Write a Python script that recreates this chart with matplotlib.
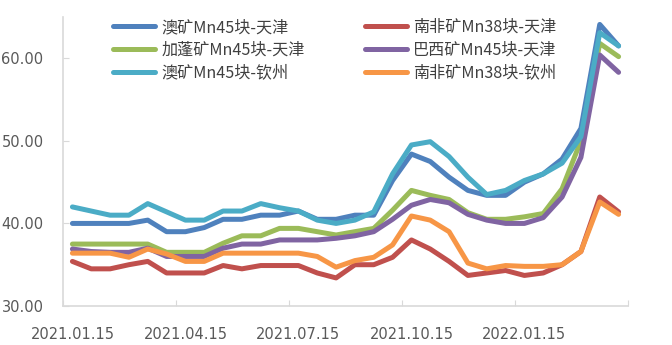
import matplotlib
matplotlib.use("Agg")
import matplotlib.pyplot as plt

dates = ["2021.01.15", "2021.01.31", "2021.02.15", "2021.02.28", "2021.03.15", "2021.03.31",
         "2021.04.15", "2021.04.30", "2021.05.15", "2021.05.31", "2021.06.15", "2021.06.30",
         "2021.07.15", "2021.07.31", "2021.08.15", "2021.08.31", "2021.09.15", "2021.09.30",
         "2021.10.15", "2021.10.31", "2021.11.15", "2021.11.30", "2021.12.15", "2021.12.31",
         "2022.01.15", "2022.01.31", "2022.02.15", "2022.02.28", "2022.03.15", "2022.03.31"]

aus_tj = [40.0, 40.0, 40.0, 40.0, 40.4, 39.0, 39.0, 39.5, 40.5, 40.5, 41.0, 41.0, 41.5, 40.5, 40.5,
          41.0, 41.0, 45.2, 48.4, 47.5, 45.6, 44.0, 43.4, 43.4, 45.0, 46.0, 47.8, 51.5, 64.1, 61.5]
sa_tj = [35.4, 34.5, 34.5, 35.0, 35.4, 34.0, 34.0, 34.0, 34.9, 34.5, 34.9, 34.9, 34.9, 34.0, 33.4,
         35.0, 35.0, 35.9, 38.0, 36.9, 35.4, 33.7, 34.0, 34.3, 33.7, 34.0, 35.0, 36.6, 43.2, 41.4]
gab_tj = [37.5, 37.5, 37.5, 37.5, 37.5, 36.5, 36.5, 36.5, 37.6, 38.5, 38.5, 39.4, 39.4, 39.0, 38.6,
          39.0, 39.4, 41.6, 44.0, 43.4, 42.9, 41.3, 40.5, 40.5, 40.8, 41.2, 44.2, 50.0, 61.8, 60.2]
bra_tj = [36.9, 36.6, 36.5, 36.5, 37.0, 36.0, 36.0, 36.0, 37.0, 37.5, 37.5, 38.0, 38.0, 38.0, 38.2,
          38.5, 39.0, 40.5, 42.2, 42.9, 42.5, 41.1, 40.4, 40.0, 40.0, 40.7, 43.2, 48.0, 60.4, 58.3]
aus_qz = [42.0, 41.5, 41.0, 41.0, 42.4, 41.4, 40.4, 40.4, 41.5, 41.5, 42.4, 41.9, 41.5, 40.4, 40.0,
          40.4, 41.4, 46.0, 49.5, 49.9, 48.1, 45.6, 43.5, 44.0, 45.2, 46.0, 47.3, 50.5, 63.1, 61.5]
sa_qz = [36.4, 36.4, 36.4, 35.9, 36.9, 36.3, 35.4, 35.4, 36.4, 36.4, 36.4, 36.4, 36.4, 36.0, 34.7,
         35.5, 35.9, 37.4, 40.9, 40.4, 39.0, 35.2, 34.5, 34.9, 34.8, 34.8, 35.0, 36.6, 42.6, 41.1]

series_names = ["澳矿Mn45块-天津", "南非矿Mn38块-天津", "加蓬矿Mn45块-天津",
                "巴西矿Mn45块-天津", "澳矿Mn45块-钦州", "南非矿Mn38块-钦州"]
series_values = [aus_tj, sa_tj, gab_tj, bra_tj, aus_qz, sa_qz]
colors = ["#4F81BD", "#C0504D", "#9BBB59", "#8064A2", "#4BACC6", "#F79646"]

y_ticks = [30, 40, 50, 60]
label_step = 6

plt.rcParams['font.family'] = ['Noto Sans CJK SC', 'DejaVu Sans']

fig = plt.figure(figsize=(6.72, 3.45), dpi=100)
ax = fig.add_axes([63/672, 1-306/345, (628-63)/672, (306-17)/345])

x = list(range(len(dates)))
handles = []
for name, vals, c in zip(series_names, series_values, colors):
    h, = ax.plot(x, vals, color=c, lw=3.6, label=name,
                 solid_capstyle='round', solid_joinstyle='round')
    handles.append(h)

ax.set_xlim(-0.5, len(dates) - 0.5)
ax.set_ylim(30, 65)

ax.set_yticks(y_ticks)
ax.set_yticklabels([f"{v:.2f}" for v in y_ticks], family='DejaVu Sans', fontsize=10.5, color='#595959')
ax.tick_params(axis='y', direction='in', length=4, color='#D9D9D9', pad=14)

major = [i - 0.5 for i in range(0, len(dates) + 1, label_step)]
ax.set_xticks(major)
ax.set_xticklabels([])
ax.tick_params(axis='x', which='major', direction='in', length=4, color='#D9D9D9')
minor = list(range(0, len(dates), label_step))
ax.set_xticks(minor, minor=True)
ax.set_xticklabels([dates[i] for i in minor], minor=True, family='DejaVu Sans', fontsize=10.5, color='#595959')
ax.tick_params(axis='x', which='minor', length=0, pad=15)

for s in ['top', 'right']:
    ax.spines[s].set_visible(False)
for s in ['left', 'bottom']:
    ax.spines[s].set_color('#D9D9D9')
    ax.spines[s].set_linewidth(1.2)

order = [0, 2, 4, 1, 3, 5]
leg = fig.legend([handles[i] for i in order], [series_names[i] for i in order],
                 loc='upper left', bbox_to_anchor=(113/672, 1-19/345), ncol=2,
                 frameon=False, fontsize=11.6, handlelength=2.6, handletextpad=0.4,
                 columnspacing=3.75, labelspacing=0.36, borderpad=0, borderaxespad=0)
for t in leg.get_texts():
    t.set_color('#404040')

fig.savefig("out.png", dpi=100)
